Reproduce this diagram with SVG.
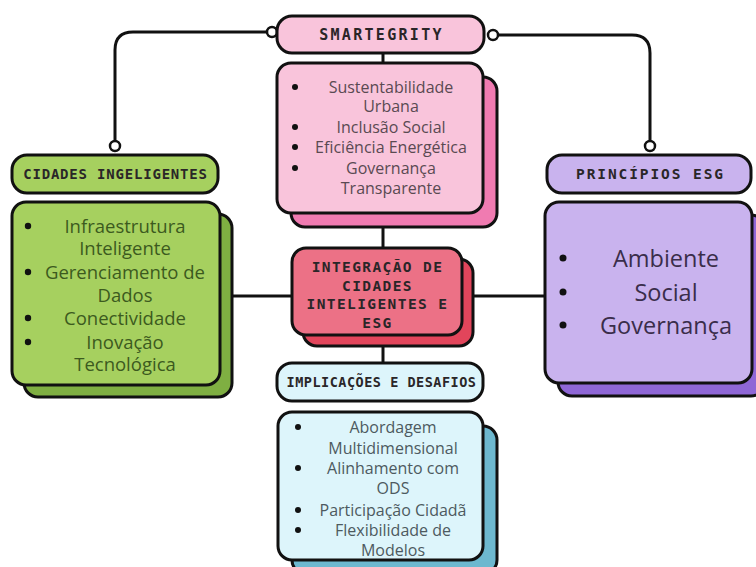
<svg xmlns="http://www.w3.org/2000/svg" width="756" height="567" viewBox="0 0 756 567">
  <style>
    .edge { fill: none; stroke: #111; stroke-width: 3; }
    .dot { fill: #fff; stroke: #111; stroke-width: 2.5; }
    .box { stroke: #111; stroke-width: 3; }
    .head { font-family: "DejaVu Sans Mono", "Liberation Mono", monospace; font-weight: bold; text-anchor: middle; fill: #2a2628; }
    .body { font-family: "Open Sans", "Noto Sans", sans-serif; text-anchor: middle; }
    .bullet { stroke: none; }
  </style>
  <rect width="756" height="567" fill="#fff"/>

  <!-- connectors -->
  <g id="connectors">
    <path class="edge" d="M267 32 H133 Q115 32 115 50 V141"/>
    <path class="edge" d="M498 35 H632 Q650 35 650 53 V141"/>
    <path class="edge" d="M383 53 V248"/>
    <path class="edge" d="M383 335 V363"/>
    <path class="edge" d="M220 296 H292"/>
    <path class="edge" d="M462 296 H545"/>
    <circle class="dot" cx="272" cy="32" r="5"/>
    <circle class="dot" cx="115" cy="146" r="5"/>
    <circle class="dot" cx="493" cy="35" r="5"/>
    <circle class="dot" cx="650" cy="146" r="5"/>
  </g>

  <!-- SMARTEGRITY -->
  <g id="smartegrity">
    <rect class="box" x="277" y="16" width="207" height="37" rx="15" fill="#F9C4DB"/>
    <text class="head" x="381.5" y="40" font-size="15" letter-spacing="2.3">SMARTEGRITY</text>
    <rect class="box" x="291" y="77" width="206" height="150" rx="14" fill="#F07BB1"/>
    <rect class="box" x="277" y="63" width="206" height="150" rx="14" fill="#F9C4DB"/>
    <g fill="#111">
      <circle class="bullet" cx="295" cy="87" r="3"/>
      <circle class="bullet" cx="295" cy="127" r="3"/>
      <circle class="bullet" cx="295" cy="147" r="3"/>
      <circle class="bullet" cx="295" cy="168" r="3"/>
    </g>
    <g class="body" font-size="16" fill="#5a4a52">
      <text x="391" y="92.5">Sustentabilidade</text>
      <text x="391" y="112">Urbana</text>
      <text x="391" y="132.5">Inclusão Social</text>
      <text x="391" y="152.5">Eficiência Energética</text>
      <text x="391" y="173.5">Governança</text>
      <text x="391" y="193.5">Transparente</text>
    </g>
  </g>

  <!-- CIDADES INGELIGENTES -->
  <g id="cidades">
    <rect class="box" x="12" y="155" width="206" height="38" rx="15" fill="#A6D05F"/>
    <text class="head" x="115.5" y="179" font-size="14" letter-spacing="0.8">CIDADES INGELIGENTES</text>
    <rect class="box" x="24" y="214" width="208" height="183" rx="14" fill="#7FAF42"/>
    <rect class="box" x="12" y="202" width="208" height="183" rx="14" fill="#A6D05F"/>
    <g fill="#111">
      <circle class="bullet" cx="28" cy="226" r="3.2"/>
      <circle class="bullet" cx="28" cy="272" r="3.2"/>
      <circle class="bullet" cx="28" cy="318" r="3.2"/>
      <circle class="bullet" cx="28" cy="342" r="3.2"/>
    </g>
    <g class="body" font-size="18.5" fill="#3c5a1e">
      <text x="125" y="232.5">Infraestrutura</text>
      <text x="125" y="254.5">Inteligente</text>
      <text x="125" y="278.5">Gerenciamento de</text>
      <text x="125" y="301.5">Dados</text>
      <text x="125" y="324.5">Conectividade</text>
      <text x="125" y="348.5">Inovação</text>
      <text x="125" y="370.5">Tecnológica</text>
    </g>
  </g>

  <!-- PRINCÍPIOS ESG -->
  <g id="principios">
    <rect class="box" x="547" y="155" width="204" height="38" rx="15" fill="#C9B3EE"/>
    <text class="head" x="650.5" y="179" font-size="14.5" letter-spacing="1.9">PRINCÍPIOS ESG</text>
    <rect class="box" x="558" y="215" width="207" height="181" rx="14" fill="#8F67D6"/>
    <rect class="box" x="545" y="202" width="207" height="181" rx="14" fill="#C9B3EE"/>
    <g fill="#111">
      <circle class="bullet" cx="563" cy="258" r="3.5"/>
      <circle class="bullet" cx="563" cy="292" r="3.5"/>
      <circle class="bullet" cx="563" cy="325" r="3.5"/>
    </g>
    <g class="body" font-size="23.5" fill="#3a2d4a">
      <text x="666" y="266.5">Ambiente</text>
      <text x="666" y="300.5">Social</text>
      <text x="666" y="333.5">Governança</text>
    </g>
  </g>

  <!-- INTEGRAÇÃO -->
  <g id="integracao">
    <rect class="box" x="303" y="259" width="170" height="87" rx="14" fill="#E2455B"/>
    <rect class="box" x="292" y="248" width="170" height="87" rx="14" fill="#EC7186"/>
    <g class="head" font-size="14.5" letter-spacing="1.4" fill="#3a1e24">
      <text x="377.5" y="272">INTEGRAÇÃO DE</text>
      <text x="377.5" y="290.5">CIDADES</text>
      <text x="377.5" y="309">INTELIGENTES E</text>
      <text x="377.5" y="327.5">ESG</text>
    </g>
  </g>

  <!-- IMPLICAÇÕES E DESAFIOS -->
  <g id="implicacoes">
    <rect class="box" x="277" y="363" width="206" height="38" rx="15" fill="#DDF5FB"/>
    <text class="head" x="381.5" y="387" font-size="13.5" letter-spacing="0.5">IMPLICAÇÕES E DESAFIOS</text>
    <rect class="box" x="292" y="426" width="205" height="148" rx="14" fill="#6DB8CF"/>
    <rect class="box" x="278" y="412" width="205" height="148" rx="14" fill="#DDF5FB"/>
    <g fill="#111">
      <circle class="bullet" cx="298" cy="427" r="3"/>
      <circle class="bullet" cx="298" cy="468" r="3"/>
      <circle class="bullet" cx="298" cy="510" r="3"/>
      <circle class="bullet" cx="298" cy="530" r="3"/>
    </g>
    <g class="body" font-size="16" fill="#4d5a60">
      <text x="393" y="432.5">Abordagem</text>
      <text x="393" y="453.5">Multidimensional</text>
      <text x="393" y="473.5">Alinhamento com</text>
      <text x="393" y="493.5">ODS</text>
      <text x="393" y="515.5">Participação Cidadã</text>
      <text x="393" y="535.5">Flexibilidade de</text>
      <text x="393" y="555.5">Modelos</text>
    </g>
  </g>
</svg>
